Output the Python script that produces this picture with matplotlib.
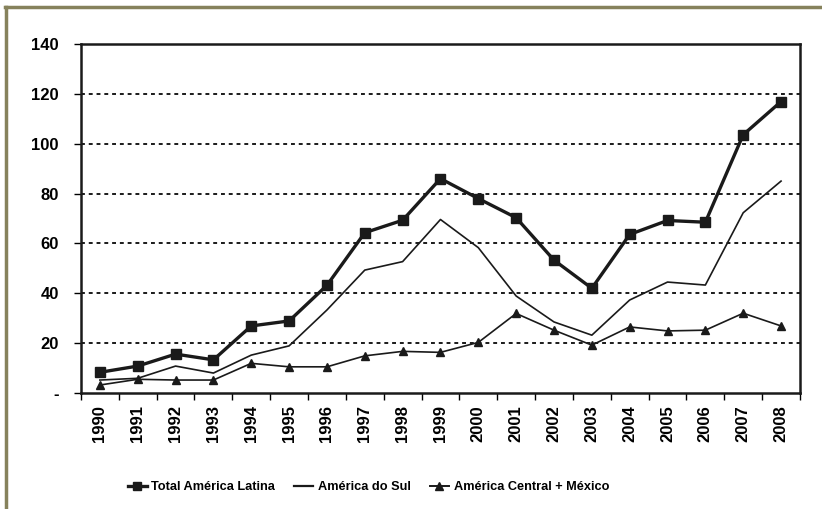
import numpy as np
import matplotlib.pyplot as plt
from matplotlib.lines import Line2D
from matplotlib.ticker import FixedLocator

plt.rcParams['font.family'] = ['Liberation Sans', 'DejaVu Sans']

anos = [str(a) for a in range(1990, 2009)]
total_al = [8.3, 10.8, 15.6, 13.3, 26.9, 28.9, 43.2, 64.3, 69.3, 86.0, 78.0,
            70.3, 53.3, 42.0, 63.6, 69.2, 68.5, 103.6, 116.9]
america_sul = [5.2, 5.9, 10.8, 8.0, 15.2, 18.9, 33.3, 49.3, 52.7, 69.6, 58.3,
               38.9, 28.5, 23.2, 37.3, 44.5, 43.3, 72.3, 85.0]
central_mex = [3.2, 5.5, 5.2, 5.2, 11.9, 10.5, 10.5, 14.9, 16.7, 16.3, 20.3,
               31.9, 25.2, 19.2, 26.5, 24.9, 25.2, 32.0, 26.9]
y_ticks = [0, 20, 40, 60, 80, 100, 120, 140]
y_labels = ['-', '20', '40', '60', '80', '100', '120', '140']

fig = plt.figure(figsize=(8.22, 5.09), dpi=100)
ax = fig.add_axes([0.0985, 0.2279, 0.8747, 0.6857])

x = np.arange(len(anos))
ax.plot(x, total_al, color='#1a1a1a', lw=2.4, marker='s', ms=6.5, zorder=4)
ax.plot(x, america_sul, color='#1a1a1a', lw=1.2, zorder=3)
ax.plot(x, central_mex, color='#1a1a1a', lw=1.2, marker='^', ms=6, zorder=3)

ax.set_xlim(-0.5, len(anos) - 0.5)
ax.set_ylim(0, 140)

# linhas de grade pontilhadas
for v in y_ticks[1:-1]:
    ax.axhline(v, color='#1a1a1a', lw=1.4, ls=(0, (2, 2)), zorder=1)

ax.set_yticks(y_ticks)
ax.set_yticklabels(y_labels, fontsize=12, fontweight='bold')
ax.tick_params(axis='y', direction='out', length=5, width=1, pad=11)

ax.set_xticks(x)
ax.set_xticklabels(anos, rotation=90, fontsize=12, fontweight='bold')
ax.tick_params(axis='x', which='major', length=0, pad=9)
ax.xaxis.set_minor_locator(FixedLocator(np.arange(-0.5, len(anos), 1.0)))
ax.tick_params(axis='x', which='minor', direction='out', length=5, width=1)

for s in ax.spines.values():
    s.set_linewidth(1.8)
    s.set_color('#1a1a1a')

handles = [
    Line2D([], [], color='#1a1a1a', lw=2.4, marker='s', ms=5.5),
    Line2D([], [], color='#1a1a1a', lw=1.6),
    Line2D([], [], color='#1a1a1a', lw=1.4, marker='^', ms=5.5),
]
fig.legend(handles, ['Total América Latina', 'América do Sul', 'América Central + México'],
           loc='center', bbox_to_anchor=(0.448, 0.043), ncol=3, frameon=False,
           handlelength=1.5, handletextpad=0.35, columnspacing=1.5,
           prop={'weight': 'bold', 'size': 9.2})

# moldura externa (linhas superior e esquerda)
fig.add_artist(Line2D([0.006, 1.0], [0.986, 0.986], color='#86825c', lw=2.5))
fig.add_artist(Line2D([0.007, 0.007], [0.0, 0.986], color='#86825c', lw=2.5))

fig.savefig('out.png', dpi=100)
